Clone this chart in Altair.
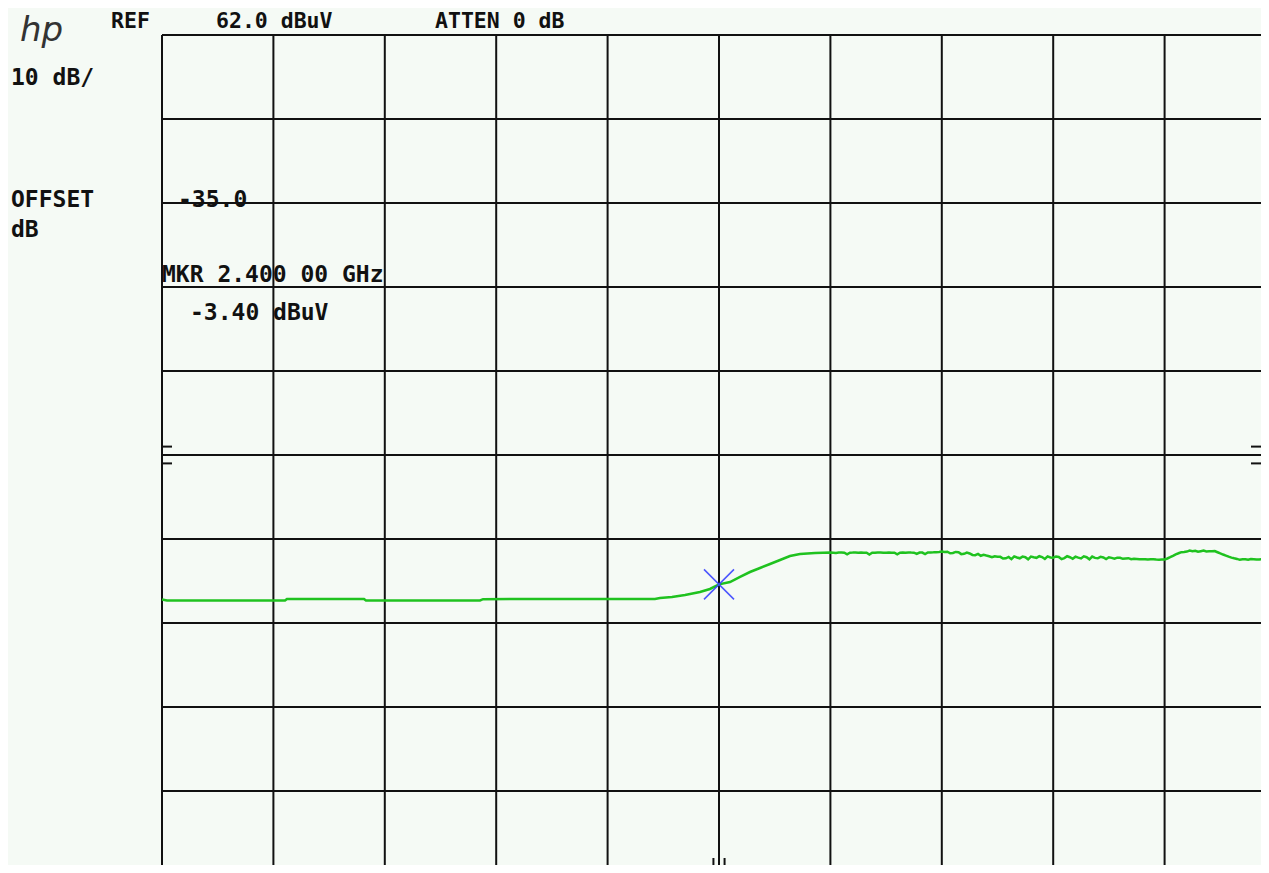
import altair as alt
import pandas as pd

# ---------------- data ----------------
trace_freq_mhz = [
    1900.0, 1904.5, 2010.4, 2012.2, 2081.3, 2083.1, 2185.5, 2188.2, 2342.5,
    2347.0, 2357.8, 2369.5, 2382.9, 2391.9, 2400.0, 2409.9, 2418.9, 2427.8,
    2436.8, 2445.8, 2454.8, 2463.7, 2472.7, 2486.2,
    2500.0, 2502.5, 2505.0, 2507.5, 2510.0, 2512.5, 2515.0, 2517.5, 2520.0, 2522.5,
    2525.0, 2527.5, 2530.0, 2532.5, 2535.0, 2537.5, 2540.0, 2542.5, 2545.0, 2547.5,
    2550.0, 2552.5, 2555.0, 2557.5, 2560.0, 2562.5, 2565.0, 2567.5, 2570.0, 2572.5,
    2575.0, 2577.5, 2580.0, 2582.5, 2585.0, 2587.5, 2590.0, 2592.5, 2595.0, 2597.5,
    2600.0, 2602.5, 2605.0, 2607.5, 2610.0, 2612.5, 2615.0, 2617.5, 2620.0, 2622.5,
    2625.0, 2627.5, 2630.0, 2632.5, 2635.0, 2637.5, 2640.0, 2642.5, 2645.0, 2647.5,
    2650.0, 2652.5, 2655.0, 2657.5, 2660.0, 2662.5, 2665.0, 2667.5, 2670.0, 2672.5,
    2675.0, 2677.5, 2680.0, 2682.5, 2685.0, 2687.5, 2690.0, 2692.5, 2695.0, 2697.5,
    2700.0, 2702.5, 2705.0, 2707.5, 2710.0, 2712.5, 2715.0, 2717.5, 2720.0, 2722.5,
    2725.0, 2727.5, 2730.0, 2732.5, 2735.0, 2737.5, 2740.0, 2742.5, 2745.0, 2747.5,
    2750.0, 2752.5, 2755.0, 2757.5, 2760.0, 2762.5, 2765.0, 2767.5, 2770.0, 2772.5,
    2775.0, 2777.5, 2780.0, 2782.5, 2785.0, 2787.5, 2790.0, 2792.5, 2795.0, 2797.5,
    2800.0, 2802.5, 2805.0, 2807.5, 2810.0, 2812.5, 2815.0, 2817.5, 2820.0, 2822.5,
    2825.0, 2827.5, 2830.0, 2832.5, 2835.0, 2837.5, 2840.0, 2842.5, 2845.0, 2847.5,
    2850.0, 2852.5, 2855.0, 2857.5, 2860.0, 2862.5, 2865.0, 2867.5, 2870.0, 2872.5,
    2875.0, 2877.5, 2880.0, 2882.5, 2885.0, 2887.5, 2890.0, 2892.5, 2895.0, 2897.5,
    2900.0,
]
trace_level_dbuv = [
    -5.20, -5.32, -5.32, -5.14, -5.14, -5.32, -5.32, -5.16, -5.14,
    -5.02, -4.90, -4.67, -4.31, -3.95, -3.40, -3.12, -2.52, -1.93,
    -1.45, -0.98, -0.50, -0.02, 0.21, 0.33,
    0.39, 0.36, 0.33, 0.38, 0.40, 0.37, 0.18, 0.37, 0.38, 0.40,
    0.36, 0.38, 0.35, 0.37, 0.16, 0.36, 0.36, 0.39, 0.38, 0.36,
    0.37, 0.39, 0.35, 0.37, 0.18, 0.37, 0.38, 0.36, 0.40, 0.38,
    0.37, 0.22, 0.39, 0.38, 0.21, 0.39, 0.40, 0.41, 0.43, 0.46,
    0.50, 0.44, 0.48, 0.30, 0.33, 0.46, 0.43, 0.20, 0.23, 0.38,
    0.28, 0.10, 0.08, 0.22, 0.00, 0.12, 0.03, -0.05, -0.17, -0.05,
    -0.12, -0.12, -0.32, -0.30, -0.14, -0.40, -0.07, -0.20, -0.30, -0.10,
    -0.17, -0.42, -0.10, -0.18, -0.24, -0.05, -0.15, -0.38, -0.07, -0.20,
    -0.22, -0.08, -0.14, -0.40, -0.27, -0.05, -0.17, -0.35, -0.10, -0.22,
    -0.32, -0.06, -0.17, -0.42, -0.09, -0.25, -0.30, -0.12, -0.20, -0.38,
    -0.17, -0.25, -0.34, -0.22, -0.24, -0.36, -0.32, -0.28, -0.40, -0.35,
    -0.37, -0.41, -0.42, -0.40, -0.45, -0.42, -0.42, -0.45, -0.47, -0.44,
    -0.44, -0.32, -0.17, 0.00, 0.18, 0.30, 0.43, 0.45, 0.50, 0.62,
    0.55, 0.60, 0.48, 0.55, 0.62, 0.52, 0.54, 0.55, 0.56, 0.42,
    0.28, 0.15, 0.03, -0.10, -0.22, -0.30, -0.37, -0.48, -0.42, -0.40,
    -0.47, -0.38, -0.40, -0.45, -0.44, -0.38, -0.37, -0.46, -0.42, -0.40,
    -0.40,
]
marker_freq_mhz = [2400.0]
marker_level_dbuv = [-3.40]

grid_freq_mhz = [1900, 2000, 2100, 2200, 2300, 2400, 2500, 2600, 2700, 2800, 2900]
grid_level_dbuv = [62, 52, 42, 32, 22, 12, 2, -8, -18, -28, -38]

# display-line indicator ticks (short marks on the graticule border)
side_tick_level_dbuv = [13, 11]
bottom_tick_freq_mhz = [2395, 2405]

# ---------------- layout ----------------
# full graticule is 1114 x 840 px (10 x 10 divisions); only part of it fits
# on the page, so the view is cut at the page edge and the domains follow.
GRID_W_PX, GRID_H_PX = 1114, 840
PLOT_LEFT, PLOT_TOP = 162, 35       # page pixels (page margin is 8)
VIEW_W = 1269 - 8 - PLOT_LEFT       # 1099
VIEW_H = 873 - 8 - PLOT_TOP         # 830
F_START, F_STOP = 1900.0, 2900.0
L_REF, L_BOTTOM = 62.0, -38.0
MHZ_PER_PX = (F_STOP - F_START) / GRID_W_PX
DB_PER_PX = (L_REF - L_BOTTOM) / GRID_H_PX
x_max = F_START + VIEW_W * MHZ_PER_PX
y_min = L_REF - VIEW_H * DB_PER_PX
TICK_PX = 10

xs = alt.Scale(domain=[F_START, x_max], zero=False, nice=False)
ys = alt.Scale(domain=[y_min, L_REF], zero=False, nice=False)

INK = "#111111"
GRID_W = 2

vgrid = alt.Chart(pd.DataFrame({"f": grid_freq_mhz})).mark_rule(
    color=INK, strokeWidth=GRID_W
).encode(x=alt.X("f:Q", scale=xs, axis=None))

hgrid = alt.Chart(pd.DataFrame({"l": grid_level_dbuv})).mark_rule(
    color=INK, strokeWidth=GRID_W
).encode(y=alt.Y("l:Q", scale=ys, axis=None))

n_side = len(side_tick_level_dbuv)
left_ticks = alt.Chart(pd.DataFrame({
    "l": side_tick_level_dbuv,
    "a": [F_START] * n_side,
    "b": [F_START + TICK_PX * MHZ_PER_PX] * n_side,
})).mark_rule(color=INK, strokeWidth=GRID_W).encode(
    y=alt.Y("l:Q", scale=ys, axis=None),
    x=alt.X("a:Q", scale=xs, axis=None), x2="b:Q")

right_ticks = alt.Chart(pd.DataFrame({
    "l": side_tick_level_dbuv,
    "a": [x_max - TICK_PX * MHZ_PER_PX] * n_side,
    "b": [x_max] * n_side,
})).mark_rule(color=INK, strokeWidth=GRID_W).encode(
    y=alt.Y("l:Q", scale=ys, axis=None),
    x=alt.X("a:Q", scale=xs, axis=None), x2="b:Q")

n_bot = len(bottom_tick_freq_mhz)
bottom_ticks = alt.Chart(pd.DataFrame({
    "f": bottom_tick_freq_mhz,
    "a": [y_min] * n_bot,
    "b": [y_min + 7 * DB_PER_PX] * n_bot,
})).mark_rule(color=INK, strokeWidth=GRID_W).encode(
    x=alt.X("f:Q", scale=xs, axis=None),
    y=alt.Y("a:Q", scale=ys, axis=None), y2="b:Q")

trace = alt.Chart(pd.DataFrame({
    "f": trace_freq_mhz, "l": trace_level_dbuv
})).mark_line(color="#1fc21f", strokeWidth=2.5).encode(
    x=alt.X("f:Q", scale=xs, axis=None),
    y=alt.Y("l:Q", scale=ys, axis=None))

marker = alt.Chart(pd.DataFrame({
    "f": marker_freq_mhz, "l": marker_level_dbuv
})).mark_point(
    shape="M-1,-1L1,1M-1,1L1,-1", size=900, filled=False,
    strokeWidth=1.5, color="#3a44ff", opacity=0.9
).encode(
    x=alt.X("f:Q", scale=xs, axis=None),
    y=alt.Y("l:Q", scale=ys, axis=None))


def label(text, x_page, baseline_page, size=23, **kw):
    props = dict(align="left", baseline="alphabetic", font="DejaVu Sans Mono",
                 fontWeight="bold", fontSize=size, color=INK)
    props.update(kw)
    return alt.Chart(pd.DataFrame({"t": [text]})).mark_text(**props).encode(
        x=alt.value(x_page - PLOT_LEFT),
        y=alt.value(baseline_page - PLOT_TOP),
        text="t:N")


texts = [
    label("hp", 20, 41, size=34, font="DejaVu Sans", fontWeight="normal",
          fontStyle="italic", color="#333333"),
    label("REF", 111, 28, size=21.5),
    label("62.0 dBuV", 216, 28, size=21.5),
    label("ATTEN 0 dB", 435, 28, size=21.5),
    label("10 dB/", 11, 85),
    label("OFFSET", 11, 207),
    label("dB", 11, 237),
    label("-35.0", 178, 207),
    label("MKR 2.400 00 GHz", 162, 282),
    label("-3.40 dBuV", 190, 320),
]

chart = alt.layer(
    vgrid, hgrid, left_ticks, right_ticks, bottom_ticks, trace, marker, *texts
).properties(
    width=VIEW_W,
    height=VIEW_H,
    padding={"left": PLOT_LEFT - 8, "top": PLOT_TOP - 8, "right": 0, "bottom": 0},
    autosize=alt.AutoSizeParams(type="none"),
    background="#f5faf5",
).configure_view(strokeWidth=0)

chart.save("out.html", embed_options={"renderer": "svg", "actions": False})
